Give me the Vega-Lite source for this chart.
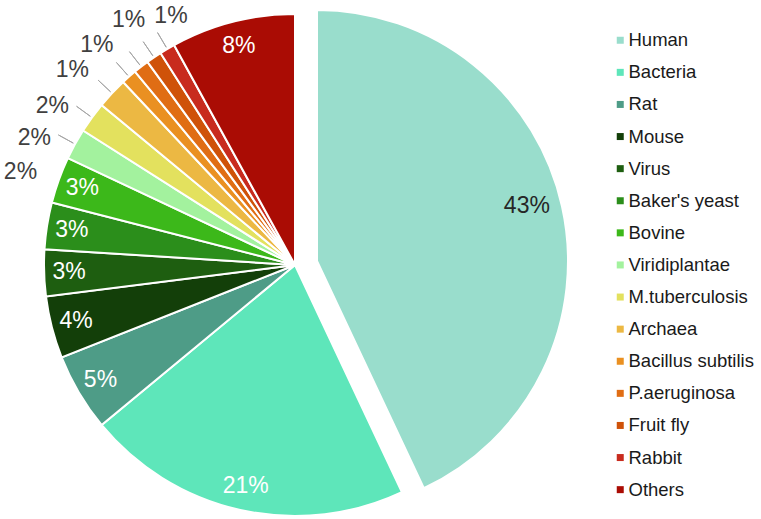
{
  "$schema": "https://vega.github.io/schema/vega-lite/v6.json",
  "width": 761,
  "height": 519,
  "padding": 0,
  "autosize": {"type": "none"},
  "background": "white",
  "config": {"view": {"stroke": null}, "font": "Liberation Sans"},
  "data": {"values": [
    {"name": "Human", "pct": 43, "lbl": "43%", "ord": 1},
    {"name": "Bacteria", "pct": 21, "lbl": "21%", "ord": 2},
    {"name": "Rat", "pct": 5, "lbl": "5%", "ord": 3},
    {"name": "Mouse", "pct": 4, "lbl": "4%", "ord": 4},
    {"name": "Virus", "pct": 3, "lbl": "3%", "ord": 5},
    {"name": "Baker's yeast", "pct": 3, "lbl": "3%", "ord": 6},
    {"name": "Bovine", "pct": 3, "lbl": "3%", "ord": 7},
    {"name": "Viridiplantae", "pct": 2, "lbl": "2%", "ord": 8},
    {"name": "M.tuberculosis", "pct": 2, "lbl": "2%", "ord": 9},
    {"name": "Archaea", "pct": 2, "lbl": "2%", "ord": 10},
    {"name": "Bacillus subtilis", "pct": 1, "lbl": "1%", "ord": 11},
    {"name": "P.aeruginosa", "pct": 1, "lbl": "1%", "ord": 12},
    {"name": "Fruit fly", "pct": 1, "lbl": "1%", "ord": 13},
    {"name": "Rabbit", "pct": 1, "lbl": "1%", "ord": 14},
    {"name": "Others", "pct": 8, "lbl": "8%", "ord": 15}
  ]},
  "encoding": {
    "theta": {"field": "pct", "type": "quantitative", "stack": true},
    "order": {"field": "ord", "type": "quantitative"}
  },
  "layer": [
    {
      "mark": {"type": "arc", "radius": 251, "stroke": "white", "strokeWidth": 2, "xOffset": -85.5, "yOffset": 5.5},
      "encoding": {
        "color": {
          "field": "name", "type": "nominal", "sort": null,
          "scale": {
            "domain": ["Human", "Bacteria", "Rat", "Mouse", "Virus", "Baker's yeast", "Bovine", "Viridiplantae", "M.tuberculosis", "Archaea", "Bacillus subtilis", "P.aeruginosa", "Fruit fly", "Rabbit", "Others"],
            "range": ["#99DDCC", "#5EE6BA", "#4E9C87", "#133F09", "#1E5E10", "#2B8E1B", "#3CB81A", "#A3F29E", "#E3E15E", "#ECB843", "#EA9021", "#E06D14", "#CF5209", "#C82B1E", "#AA0C04"]
          },
          "legend": {
            "title": null, "orient": "none", "legendX": 611, "legendY": 31,
            "symbolType": "square", "symbolSize": 49, "symbolStrokeWidth": 0,
            "labelFontSize": 18.5, "labelColor": "#1a1a1a", "labelFont": "Liberation Sans",
            "rowPadding": 13.1, "labelOffset": -1, "labelLimit": 200
          }
        },
        "opacity": {"condition": {"test": "datum.name === 'Human'", "value": 0}, "value": 1}
      }
    },
    {
      "mark": {"type": "arc", "radius": 251, "stroke": "white", "strokeWidth": 2, "xOffset": -63.5, "yOffset": 1.5},
      "encoding": {
        "color": {"field": "name", "type": "nominal", "sort": null},
        "opacity": {"condition": {"test": "datum.name === 'Human'", "value": 1}, "value": 0}
      }
    },
    {
      "mark": {"type": "arc", "radius": 270, "radius2": 253, "padAngle": 1.2, "fill": null, "stroke": "#A6A6A6", "strokeWidth": 1, "xOffset": -85.5, "yOffset": 5.5},
      "encoding": {
        "opacity": {"condition": {"test": "datum.pct <= 2", "value": 1}, "value": 0}
      }
    },
    {
      "mark": {"type": "text", "radius": 226, "fontSize": 23, "fill": "white", "font": "Liberation Sans", "xOffset": -85.5, "yOffset": 5.5},
      "encoding": {
        "text": {"field": "lbl"},
        "opacity": {"condition": {"test": "datum.pct >= 3 && datum.name !== 'Human'", "value": 1}, "value": 0}
      }
    },
    {
      "mark": {"type": "text", "radius": 217, "thetaOffset": -0.037, "fontSize": 23, "fill": "#262626", "font": "Liberation Sans", "xOffset": -63.5, "yOffset": 1.5},
      "encoding": {
        "text": {"field": "lbl"},
        "opacity": {"condition": {"test": "datum.name === 'Human'", "value": 1}, "value": 0}
      }
    },
    {
      "mark": {"type": "text", "radius": 290, "thetaOffset": -0.1745, "fontSize": 23, "fill": "#404040", "font": "Liberation Sans", "xOffset": -85.5, "yOffset": 5.5},
      "encoding": {
        "text": {"field": "lbl"},
        "opacity": {"condition": {"test": "datum.ord >= 8 && datum.ord <= 10", "value": 1}, "value": 0}
      }
    },
    {
      "mark": {"type": "text", "radius": 296, "thetaOffset": -0.129, "fontSize": 23, "fill": "#404040", "font": "Liberation Sans", "xOffset": -85.5, "yOffset": 5.5},
      "encoding": {
        "text": {"field": "lbl"},
        "opacity": {"condition": {"test": "datum.ord === 11", "value": 1}, "value": 0}
      }
    },
    {
      "mark": {"type": "text", "radius": 296, "thetaOffset": -0.0733, "fontSize": 23, "fill": "#404040", "font": "Liberation Sans", "xOffset": -85.5, "yOffset": 5.5},
      "encoding": {
        "text": {"field": "lbl"},
        "opacity": {"condition": {"test": "datum.ord === 12", "value": 1}, "value": 0}
      }
    },
    {
      "mark": {"type": "text", "radius": 296, "fontSize": 23, "fill": "#404040", "font": "Liberation Sans", "xOffset": -85.5, "yOffset": 5.5},
      "encoding": {
        "text": {"field": "lbl"},
        "opacity": {"condition": {"test": "datum.ord === 13", "value": 1}, "value": 0}
      }
    },
    {
      "mark": {"type": "text", "radius": 278, "thetaOffset": 0.0716, "fontSize": 23, "fill": "#404040", "font": "Liberation Sans", "xOffset": -85.5, "yOffset": 5.5},
      "encoding": {
        "text": {"field": "lbl"},
        "opacity": {"condition": {"test": "datum.ord === 14", "value": 1}, "value": 0}
      }
    }
  ]
}
